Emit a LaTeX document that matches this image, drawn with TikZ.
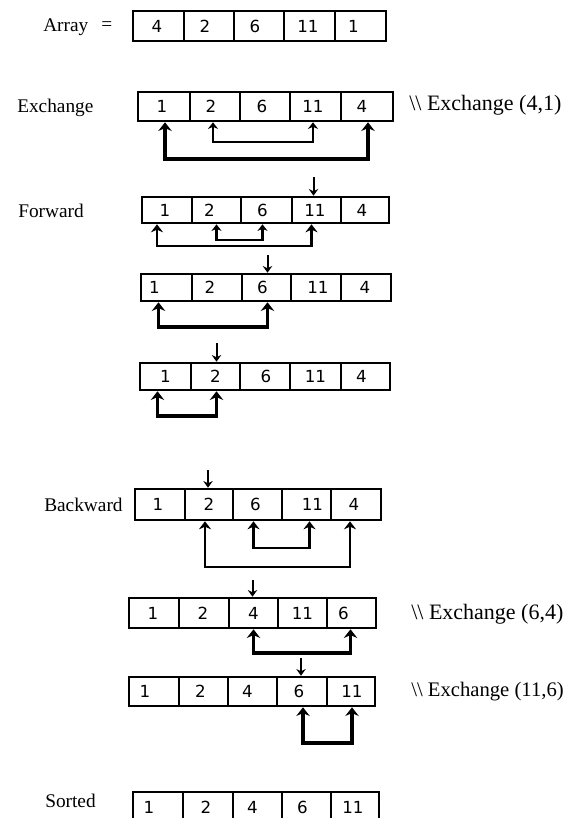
\documentclass[tikz,border=0pt]{standalone}
\usepackage{fontspec}
\setmainfont{Liberation Serif}
\newfontfamily\numfont{DejaVu Sans}
\usetikzlibrary{arrows.meta,calc}

\tikzset{
  x=0.75pt, y=-0.75pt,
  cellbox/.style={draw, line width=1.9pt, inner sep=0pt, rectangle},
  numtxt/.style={inner sep=0pt, font=\numfont\fontsize{12.5}{14}\selectfont},
  lbl/.style={inner sep=0pt, anchor=west, font=\fontsize{14.5}{17}\selectfont},
  rlbl/.style={inner sep=0pt, anchor=west, font=\fontsize{16.5}{19}\selectfont},
  swapthick/.style={line width=2.4pt, {Stealth[length=6.5pt,width=10pt]}-{Stealth[length=6.5pt,width=10pt]}},
  swapmid/.style={line width=2pt, {Stealth[length=6pt,width=9pt]}-{Stealth[length=6pt,width=9pt]}},
  swapthin/.style={line width=1.6pt, {Stealth[length=5pt,width=7.5pt]}-{Stealth[length=5pt,width=7.5pt]}},
  ptr/.style={line width=1.5pt, -{Stealth[length=5pt,width=7pt]}}
}

% #1 prefix, #2 top, #3 bottom, #4 list a/b/num/offset
\newcommand{\arrayrow}[4]{%
  \foreach \a/\b/\n/\o [count=\i] in {#4} {
    \pgfmathsetmacro{\cw}{(\b-\a)*0.75}
    \pgfmathsetmacro{\ch}{(#3-#2)*0.75}
    \node[cellbox, minimum width=\cw pt, minimum height=\ch pt] (#1c\i) at ({(\a+\b)/2},{(#2+#3)/2}) {};
    \node[numtxt] (#1n\i) at ({(\a+\b)/2+\o},{(#2+#3)/2}) {\n};
  }}

% #1 style, #2 node, #3 xoff, #4 node, #5 xoff, #6 low y
\newcommand{\swp}[6]{%
  \coordinate (sA) at ($(#2.south)+(#3,0)$);
  \coordinate (sB) at ($(#4.south)+(#5,0)$);
  \coordinate (sL) at (0,#6);
  \draw[#1] (sA) -- (sA |- sL) -- (sB |- sL) -- (sB);
}

% #1 node, #2 xoff, #3 start y
\newcommand{\dn}[3]{%
  \coordinate (dT) at ($(#1.north)+(#2,0)$);
  \coordinate (dS) at (0,#3);
  \draw[ptr] (dT |- dS) -- (dT);
}

\begin{document}
\begin{tikzpicture}
\useasboundingbox (0,0) rectangle (570,818);

% labels
\node[lbl] (lArray) at (43,27) {Array};
\node[lbl] (lEq) at (101,26) {=};
\node[lbl] (lExch) at (17,108) {Exchange};
\node[lbl] (lFwd) at (18,211) {Forward};
\node[lbl] (lBwd) at (44,505) {Backward};
\node[lbl] (lSort) at (45,801) {Sorted};
\node[rlbl] (rEx1) at (409,105) {\textbackslash\textbackslash{} Exchange (4,1)};
\node[rlbl] (rEx2) at (411,614) {\textbackslash\textbackslash{} Exchange (6,4)};
\node[rlbl, font=\fontsize{15.5}{18}\selectfont] (rEx3) at (411,692) {\textbackslash\textbackslash{} Exchange (11,6)};

% rows
\arrayrow{ra}{11}{41}{133/184/4/-1.5, 184/234/2/-4, 234/284/6/-4, 284/335/11/-1.5, 335/386/1/-7}
\arrayrow{rb}{92}{121}{138/190/1/-2, 190/240/2/-4, 240/290/6/-3, 290/341/11/-2.5, 341/393/4/-5}
\arrayrow{rc}{197}{223}{142/192/1/-2, 192/241/2/-7, 241/292/6/-4, 292/341/11/-1.5, 341/389/4/-3}
\arrayrow{rd}{274}{301}{141/192/1/-12, 192/242/2/-7, 242/291/6/-4, 291/341/11/2, 341/391/4/-1}
\arrayrow{re}{363}{390}{140/191/1/0, 191/240/2/0, 240/290/6/1, 290/341/11/0, 341/390/4/-4}
\arrayrow{rf}{489}{520}{135/185/1/-2, 185/233/2/0, 233/282/6/-2, 282/331/11/6, 331/381/4/-2}
\arrayrow{rg}{598}{628}{129/179/1/-1, 179/229/2/-1, 229/278/4/0, 278/327/11/0, 327/376/6/-8}
\arrayrow{rh}{677}{706}{129/179/1/-9, 179/228/2/-3, 228/277/4/-5, 277/327/6/-3, 327/375/11/1}
\arrayrow{ri}{792}{822}{133/183/1/-9, 183/233/2/-2, 233/282/4/-5, 282/331/6/-4, 331/379/11/-2}

% exchange arrows
\swp{swapthick}{rbc1}{1}{rbc5}{1}{159}
\swp{swapthin}{rbc2}{-2}{rbc4}{-2.5}{142}

\dn{rcc4}{-3}{177}
\swp{swapmid}{rcc1}{-10}{rcc4}{-5}{246}
\swp{swapthin}{rcc2}{0}{rcc3}{-4}{240}

\dn{rdc3}{1}{255}
\swp{swapthick}{rdc1}{-8}{rdc3}{1}{327}

\dn{rec2}{1}{343}
\swp{swapthick}{rec1}{-8}{rec2}{1}{416}

\dn{rfc2}{-1}{470}
\swp{swapmid}{rfc2}{-4}{rfc5}{-6}{567}
\swp{swapmid}{rfc3}{-4}{rfc4}{3}{548}

\dn{rgc3}{-1}{580}
\swp{swapthick}{rgc3}{0}{rgc5}{-1}{653}

\dn{rhc4}{-1}{658}
\swp{swapthick}{rhc4}{1}{rhc5}{1}{743}
\end{tikzpicture}
\end{document}
